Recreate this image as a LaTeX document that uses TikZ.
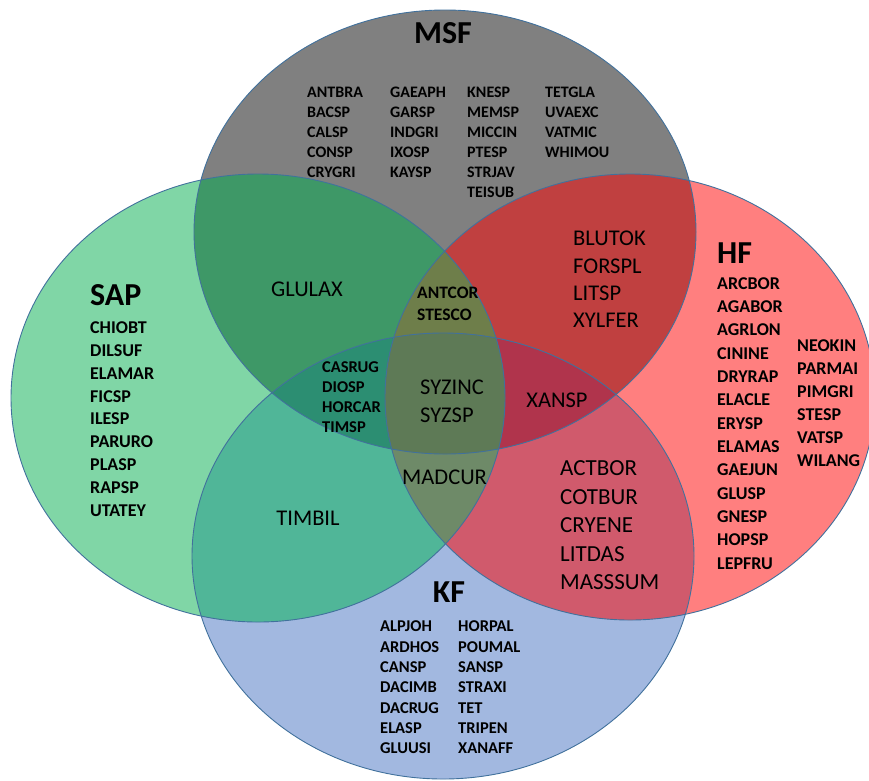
\documentclass[tikz,border=0pt]{standalone}
\usepackage{fontspec}
\setmainfont{Carlito}
\definecolor{cM}{HTML}{808080}
\definecolor{cS}{HTML}{80D6A6}
\definecolor{cH}{HTML}{FF7F7F}
\definecolor{cK}{HTML}{A2B8E0}
\definecolor{cMS}{HTML}{3E9867}
\definecolor{cMH}{HTML}{C04040}
\definecolor{cSK}{HTML}{50B698}
\definecolor{cHK}{HTML}{D05A6C}
\definecolor{cMSH}{HTML}{6E7E4A}
\definecolor{cMSK}{HTML}{2C8E72}
\definecolor{cMHK}{HTML}{B0344C}
\definecolor{cSHK}{HTML}{6E8A68}
\definecolor{cALL}{HTML}{5E7A56}
\definecolor{edge}{HTML}{41719C}
\tikzset{
  pM/.style={insert path={(445,232) ellipse [x radius=251pt, y radius=222pt]}},
  pS/.style={insert path={(258,398) ellipse [x radius=247pt, y radius=224pt]}},
  pH/.style={insert path={(630,397) ellipse [x radius=245pt, y radius=223pt]}},
  pK/.style={insert path={(443,556) ellipse [x radius=251pt, y radius=223pt]}},
  title/.style={inner sep=0pt, font=\fontsize{32}{36}\selectfont\bfseries},
  smalllist/.style={inner sep=0pt, anchor=north west, align=left, font=\fontsize{16}{20}\selectfont\bfseries},
  midlist/.style={inner sep=0pt, anchor=north west, align=left, font=\fontsize{18}{23}\selectfont\bfseries},
  biglist/.style={inner sep=0pt, align=left, font=\fontsize{22.5}{28}\selectfont},
}
\begin{document}
\begin{tikzpicture}[x=1pt,y=-1pt]
\useasboundingbox (0,0) rectangle (869,780);
% single sets
\fill[cM, pM];
\fill[cS, pS];
\fill[cH, pH];
\fill[cK, pK];
% pairs
\begin{scope}\clip[pM];\fill[cMS, pS];\end{scope}
\begin{scope}\clip[pM];\fill[cMH, pH];\end{scope}
\begin{scope}\clip[pS];\fill[cSK, pK];\end{scope}
\begin{scope}\clip[pH];\fill[cHK, pK];\end{scope}
% triples
\begin{scope}\clip[pM];\clip[pS];\fill[cMSH, pH];\end{scope}
\begin{scope}\clip[pM];\clip[pS];\fill[cMSK, pK];\end{scope}
\begin{scope}\clip[pM];\clip[pH];\fill[cMHK, pK];\end{scope}
\begin{scope}\clip[pS];\clip[pH];\fill[cSHK, pK];\end{scope}
% all four
\begin{scope}\clip[pM];\clip[pS];\clip[pH];\fill[cALL, pK];\end{scope}
% outlines
\draw[edge, line width=0.9pt, pM];
\draw[edge, line width=0.9pt, pS];
\draw[edge, line width=0.9pt, pH];
\draw[edge, line width=0.9pt, pK];

% titles
\node[title] (tMSF) at (443,33) {MSF};
\node[title, anchor=west] (tSAP) at (90,295) {SAP};
\node[title, anchor=west] (tHF) at (717,253) {HF};
\node[title] (tKF) at (449,592) {KF};

% MSF only
\node[smalllist] (m1) at (307,87) {ANTBRA\\BACSP\\CALSP\\CONSP\\CRYGRI};
\node[smalllist] (m2) at (390,87) {GAEAPH\\GARSP\\INDGRI\\IXOSP\\KAYSP};
\node[smalllist] (m3) at (467,87) {KNESP\\MEMSP\\MICCIN\\PTESP\\STRJAV\\TEISUB};
\node[smalllist] (m4) at (545,87) {TETGLA\\UVAEXC\\VATMIC\\WHIMOU};

% SAP only
\node[midlist, font=\fontsize{18}{22.9}\selectfont\bfseries] (s1) at (90,321.3) {CHIOBT\\DILSUF\\ELAMAR\\FICSP\\ILESP\\PARURO\\PLASP\\RAPSP\\UTATEY};

% HF only
\node[midlist, font=\fontsize{18}{23.33}\selectfont\bfseries] (h1) at (717,277.3) {ARCBOR\\AGABOR\\AGRLON\\CININE\\DRYRAP\\ELACLE\\ERYSP\\ELAMAS\\GAEJUN\\GLUSP\\GNESP\\HOPSP\\LEPFRU};
\node[midlist] (h2) at (797,339.3) {NEOKIN\\PARMAI\\PIMGRI\\STESP\\VATSP\\WILANG};

% KF only
\node[smalllist, font=\fontsize{16.5}{20.33}\selectfont\bfseries] (k1) at (380,620.8) {ALPJOH\\ARDHOS\\CANSP\\DACIMB\\DACRUG\\ELASP\\GLUUSI};
\node[smalllist, font=\fontsize{16.5}{20.33}\selectfont\bfseries] (k2) at (458,620.8) {HORPAL\\POUMAL\\SANSP\\STRAXI\\TET\\TRIPEN\\XANAFF};

% intersections
\node[biglist] (glulax) at (307,289) {GLULAX};
\node[biglist, anchor=north west, font=\fontsize{22.5}{27.3}\selectfont] (blutok) at (573,230.9) {BLUTOK\\FORSPL\\LITSP\\XYLFER};
\node[smalllist, font=\fontsize{17.5}{22}\selectfont\bfseries] (antcor) at (417,286.5) {ANTCOR\\STESCO};
\node[smalllist, font=\fontsize{16.5}{20}\selectfont\bfseries] (casrug) at (322,361.8) {CASRUG\\DIOSP\\HORCAR\\TIMSP};
\node[biglist, anchor=north west] (syzinc) at (420,379.9) {SYZINC\\SYZSP};
\node[biglist] (xansp) at (557,400) {XANSP};
\node[biglist, anchor=west] (madcur) at (402,477) {MADCUR};
\node[biglist] (timbil) at (308,518) {TIMBIL};
\node[biglist, anchor=north west, font=\fontsize{23}{28.5}\selectfont] (actbor) at (560,460.7) {ACTBOR\\COTBUR\\CRYENE\\LITDAS\\MASSSUM};
\end{tikzpicture}
\end{document}
